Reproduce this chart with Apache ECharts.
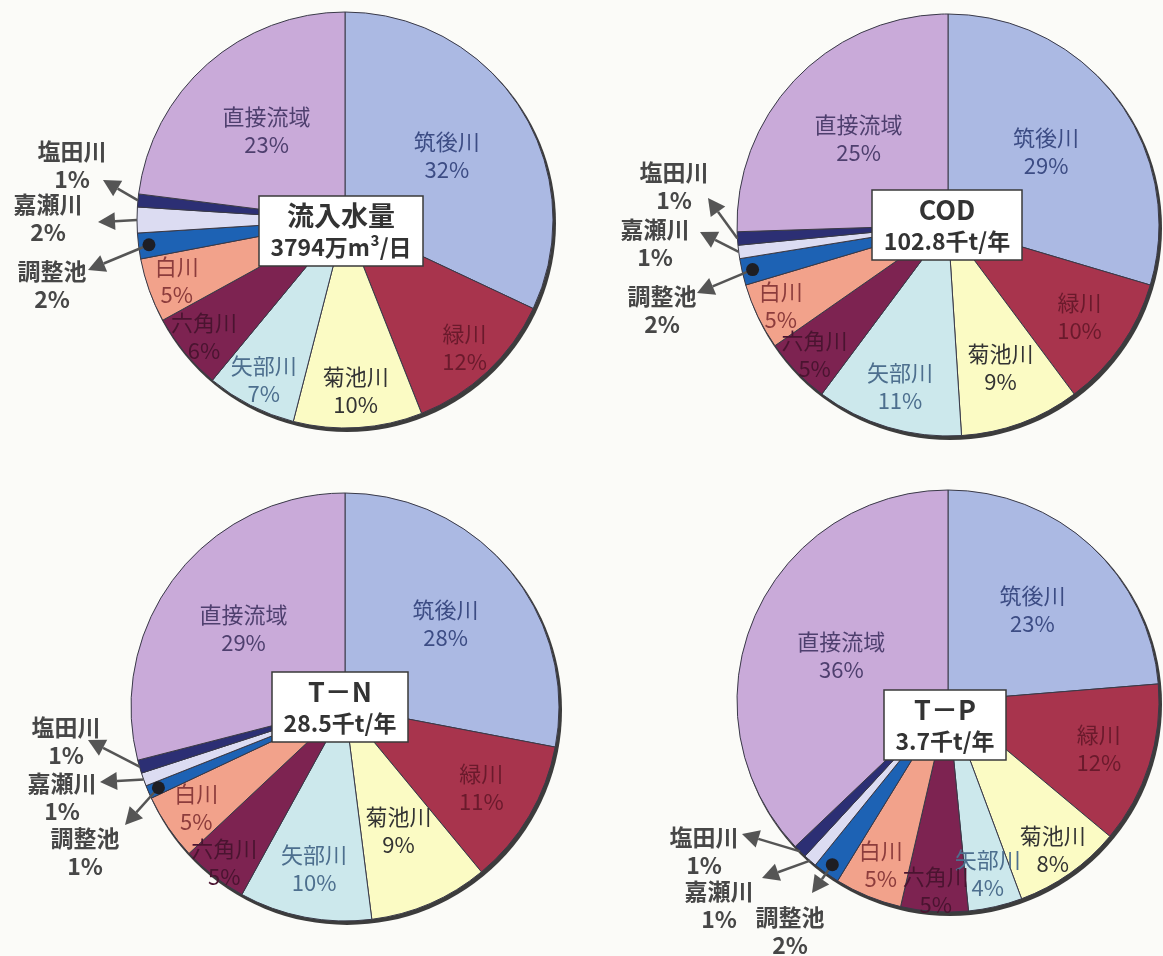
<!DOCTYPE html>
<html>
<head>
<meta charset="utf-8">
<script src="https://cdn.jsdelivr.net/npm/echarts@6/dist/echarts.min.js"></script>
<style>
  html, body { margin: 0; padding: 0; background: #fbfbf8; }
  #chart { width: 1163px; height: 956px; }
</style>
</head>
<body>
<div id="chart"></div>
<script>
// slice order, clockwise from 12 o'clock
const names = ['筑後川', '緑川', '菊池川', '矢部川', '六角川', '白川', '調整池', '嘉瀬川', '塩田川', '直接流域'];

// percentages
const flowValues = [32, 12, 10, 7, 6, 5, 2, 2, 1, 23];
const codValues = [29, 10, 9, 11, 5, 5, 2, 1, 1, 25];
const tnValues = [28, 11, 9, 10, 5, 5, 1, 1, 1, 29];
const tpValues = [23, 12, 8, 4, 5, 5, 2, 1, 1, 36];

const boxTitles = ['流入水量', 'COD', 'T－N', 'T－P'];
const boxTotals = ['3794万m³/日', '102.8千t/年', '28.5千t/年', '3.7千t/年'];

const sliceColors = ['#abb9e3', '#a8344d', '#fbfbc4', '#cce8ec', '#7d2351', '#f2a28b', '#1d62b4', '#dcdcf2', '#2c2f74', '#c9aad9'];
const textColors = ['#3c4c84', '#6a1a2c', '#333333', '#4d6f8e', '#4a1430', '#8c3c3c', '#444', '#444', '#444', '#4e3f6e'];

const FONT = '"Noto Sans CJK JP", "Noto Sans", sans-serif';
const BOX_PAD = 12;

// layout of each pie (pixels); callout offsets are relative to the pie centre,
// labelR = distance of an inside label from the centre as a share of the radius
const pies = [
  {
    values: flowValues, center: [345, 220], r: 208, box: [341, 196],
    labelR: [0.58, 0.84, 0.82, 0.86, 0.88, 0.86, 0, 0, 0, 0.57],
    callouts: {
      '塩田川': { label: [-273, -55], tip: [-242, -40], from: 1.0 },
      '嘉瀬川': { label: [-297, -2], tip: [-247, 2], from: 1.0 },
      '調整池': { label: [-293, 65], tip: [-257, 50], from: 0.95, dot: true }
    }
  },
  {
    values: codValues, center: [948, 225], r: 211, box: [947, 190],
    labelR: [0.58, 0.76, 0.72, 0.8, 0.88, 0.88, 0, 0, 0, 0.59],
    callouts: {
      '塩田川': { label: [-274, -39], tip: [-240, -27], from: 1.0 },
      '嘉瀬川': { label: [-293, 18], tip: [-248, 7], from: 1.0 },
      '調整池': { label: [-286, 85], tip: [-251, 68], from: 0.95, dot: true }
    }
  },
  {
    values: tnValues, center: [345, 707], r: 214, box: [340, 672],
    labelR: [0.61, 0.74, 0.63, 0.77, 0.92, 0.84, 0, 0, 0, 0.6],
    callouts: {
      '塩田川': { label: [-279, 34], tip: [-257, 33], from: 1.0 },
      '嘉瀬川': { label: [-283, 90], tip: [-245, 75], from: 1.0 },
      '調整池': { label: [-260, 145], tip: [-220, 118], from: 0.95, dot: true }
    }
  },
  {
    values: tpValues, center: [948, 701], r: 211, box: [945, 690],
    labelR: [0.59, 0.75, 0.86, 0.84, 0.9, 0.84, 0, 0, 0, 0.55],
    callouts: {
      '塩田川': { label: [-244, 150], tip: [-206, 133], from: 1.0 },
      '嘉瀬川': { label: [-229, 204], tip: [-186, 177], from: 1.0 },
      '調整池': { label: [-158, 230], tip: [-136, 192], from: 0.95, dot: true }
    }
  }
];

// mid angle of every slice, radians clockwise from 12 o'clock
function midAngles(values) {
  const total = values.reduce((a, b) => a + b, 0);
  let cum = 0;
  return values.map(v => {
    const m = (cum + v / 2) / total * Math.PI * 2;
    cum += v;
    return m;
  });
}

function pieSeries(pie) {
  const [cx, cy] = pie.center;
  const mids = midAngles(pie.values);
  return {
    type: 'pie',
    center: [cx, cy],
    radius: pie.r,
    startAngle: 90,
    clockwise: true,
    avoidLabelOverlap: false,
    z: 2,
    silent: true,
    itemStyle: { borderColor: '#3a3a48', borderWidth: 1 },
    label: {
      position: 'inside',
      formatter: '{b}\n{c}%',
      fontFamily: FONT,
      fontSize: 22,
      lineHeight: 28
    },
    labelLine: { show: false },
    labelLayout: function (p) {
      const co = pie.callouts[names[p.dataIndex]];
      if (co) {
        return { x: cx + co.label[0], y: cy + co.label[1], align: 'center', verticalAlign: 'middle' };
      }
      const d = pie.labelR[p.dataIndex] * pie.r;
      const m = mids[p.dataIndex];
      return { x: cx + d * Math.sin(m), y: cy - d * Math.cos(m), align: 'center', verticalAlign: 'middle' };
    },
    data: names.map((n, i) => ({
      name: n,
      value: pie.values[i],
      itemStyle: { color: sliceColors[i] },
      label: pie.callouts[n]
        ? { color: '#474747', fontWeight: 'bold', fontSize: 23 }
        : { color: textColors[i] }
    }))
  };
}

// dark rim showing on the lower right, like the printed original
function rimSeries(pie) {
  return {
    type: 'pie',
    center: [pie.center[0] + 2, pie.center[1] + 3],
    radius: pie.r + 1,
    silent: true,
    z: 1,
    label: { show: false },
    itemStyle: { color: '#3c3c3c' },
    data: [{ value: 1, name: 'rim' }]
  };
}

function arrowGraphics(pie) {
  const [cx, cy] = pie.center;
  const mids = midAngles(pie.values);
  const out = [];
  names.forEach((n, i) => {
    const co = pie.callouts[n];
    if (!co) return;
    const rr = pie.r * co.from;
    const x1 = cx + rr * Math.sin(mids[i]), y1 = cy - rr * Math.cos(mids[i]);
    const x2 = cx + co.tip[0], y2 = cy + co.tip[1];
    const len = Math.hypot(x2 - x1, y2 - y1);
    const ux = (x2 - x1) / len, uy = (y2 - y1) / len;
    const bx = x2 - ux * 17, by = y2 - uy * 17;
    out.push({
      type: 'line', z: 100,
      shape: { x1: x1, y1: y1, x2: bx, y2: by },
      style: { stroke: '#555', lineWidth: 2.5 }
    });
    out.push({
      type: 'polygon', z: 100,
      shape: { points: [[x2, y2], [bx - uy * 9, by + ux * 9], [bx + uy * 9, by - ux * 9]] },
      style: { fill: '#555' }
    });
    if (co.dot) {
      out.push({
        type: 'circle', z: 101,
        shape: { cx: x1, cy: y1, r: 6.5 },
        style: { fill: '#1e1e24' }
      });
    }
  });
  return out;
}

const chart = echarts.init(document.getElementById('chart'));
chart.setOption({
  animation: false,
  backgroundColor: '#fbfbf8',
  title: pies.map((pie, k) => ({
    text: boxTitles[k],
    subtext: boxTotals[k],
    left: pie.box[0] - BOX_PAD,
    top: pie.box[1],
    textAlign: 'center',
    itemGap: 7,
    padding: [6, BOX_PAD, 7, BOX_PAD],
    backgroundColor: '#ffffff',
    borderColor: '#3a3a3a',
    borderWidth: 1.5,
    textStyle: { fontFamily: FONT, fontSize: 27, fontWeight: 'bold', color: '#333' },
    subtextStyle: { fontFamily: FONT, fontSize: 23, fontWeight: 'bold', color: '#333' }
  })),
  series: pies.map(pieSeries).concat(pies.map(rimSeries)),
  graphic: pies.map(arrowGraphics).reduce((a, b) => a.concat(b), [])
});
</script>
</body>
</html>
